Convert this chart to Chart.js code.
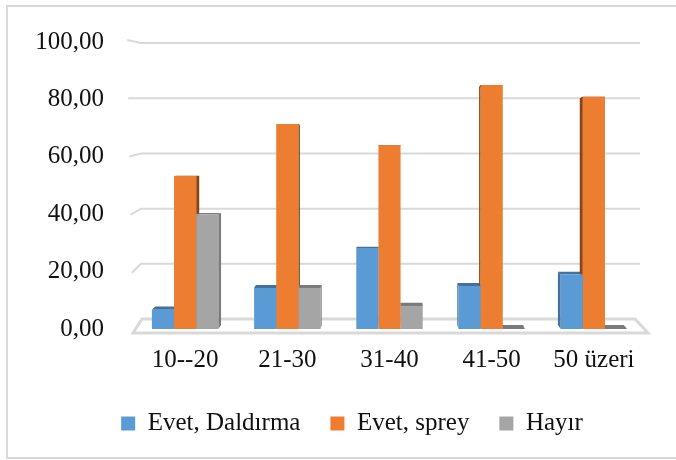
<!DOCTYPE html>
<html>
<head>
<meta charset="utf-8">
<script src="https://cdn.jsdelivr.net/npm/chart.js@4.4.1/dist/chart.umd.min.js"></script>
<style>
  html, body { margin: 0; padding: 0; background: #fff; }
  #wrap { width: 676px; height: 460px; }
</style>
</head>
<body>
<div id="wrap"><canvas id="chart" width="676" height="460"></canvas></div>
<script>
const categories = ["10--20", "21-30", "31-40", "41-50", "50 üzeri"];
const daldirmaValues = [6.67, 14.29, 28.00, 15.00, 19.05];
const spreyValues = [53.33, 71.43, 64.00, 85.00, 80.95];
const hayirValues = [40.00, 14.29, 8.00, 0, 0];
const seriesNames = ["Evet, Daldırma", "Evet, sprey", "Hayır"];
const yTicks = [0, 20, 40, 60, 80, 100];

const FONT = "'Liberation Serif', 'Times New Roman', serif";

// darker shades for the side / top faces of the columns
const sideColors = ["#41719c", "#8a4513", "#7b7b7b"];

// fake 3D: border, floor, back wall gridlines and column depth
const depth3d = {
    id: "depth3d",
    beforeDraw(chart) {
        const ctx = chart.ctx;
        ctx.save();
        ctx.fillStyle = "#fff";
        ctx.fillRect(0, 0, chart.width, chart.height);
        ctx.strokeStyle = "#d9d9d9";
        ctx.lineWidth = 2;
        ctx.strokeRect(7, 6, 700, 452);
        ctx.restore();
    },
    beforeDatasetsDraw(chart) {
        const ctx = chart.ctx;
        const a = chart.chartArea;
        const y = chart.scales.y;
        const base = y.getPixelForValue(0);
        const back = v => base - 10 - (base - y.getPixelForValue(v)) * 0.9614;

        ctx.save();
        // back wall gridlines
        ctx.strokeStyle = "#d9d9d9";
        ctx.lineWidth = 2;
        yTicks.forEach(v => {
            if (v === 0) return;
            const yb = back(v);
            const f = 1 - v / 100;
            ctx.beginPath();
            ctx.moveTo(a.left - 7 + 6 * f, yb - 3 + 15 * f);
            ctx.lineTo(a.left + 7, yb);
            ctx.lineTo(a.right - 5, yb);
            ctx.stroke();
        });

        // floor
        ctx.lineWidth = 3;
        ctx.beginPath();
        ctx.moveTo(a.left - 1, base + 4);
        ctx.lineTo(a.right + 3, base + 4);
        ctx.lineTo(a.right - 10, back(0));
        ctx.lineTo(a.left + 8, back(0));
        ctx.closePath();
        ctx.fillStyle = "#fff";
        ctx.fill();
        ctx.stroke();

        // column side + top faces (front faces are drawn by Chart.js on top)
        const cx = (a.left + a.right) / 2;
        const eye = a.top + (base - a.top) * 0.45;
        chart.data.datasets.forEach((ds, i) => {
            const meta = chart.getDatasetMeta(i);
            ctx.fillStyle = sideColors[i];
            meta.data.forEach(bar => {
                const p = bar.getProps(["x", "y", "base", "width"], true);
                const l = p.x - p.width / 2, r = p.x + p.width / 2;
                const dx = (cx - p.x) * 0.015;
                const dyT = (eye - p.y) * 0.025;
                const dyB = (eye - p.base) * 0.025;
                // top face
                ctx.beginPath();
                ctx.moveTo(l, p.y);
                ctx.lineTo(r, p.y);
                ctx.lineTo(r + dx, p.y + dyT);
                ctx.lineTo(l + dx, p.y + dyT);
                ctx.closePath();
                ctx.fill();
                // side face
                const ex = dx > 0 ? r : l;
                ctx.beginPath();
                ctx.moveTo(ex, p.y);
                ctx.lineTo(ex + dx, p.y + dyT);
                ctx.lineTo(ex + dx, p.base + dyB);
                ctx.lineTo(ex, p.base);
                ctx.closePath();
                ctx.fill();
            });
        });
        ctx.restore();
    }
};

const ctx = document.getElementById("chart").getContext("2d");

new Chart(ctx, {
    type: "bar",
    data: {
        labels: categories,
        datasets: [
            { label: seriesNames[0], data: daldirmaValues, backgroundColor: "#5b9bd5" },
            { label: seriesNames[1], data: spreyValues, backgroundColor: "#ed7d31" },
            { label: seriesNames[2], data: hayirValues, backgroundColor: "#a5a5a5" }
        ]
    },
    options: {
        responsive: false,
        animation: false,
        layout: { padding: { left: 28, right: 0, top: 42, bottom: 14 } },
        datasets: {
            bar: { barPercentage: 1, categoryPercentage: 0.65, borderWidth: 0 }
        },
        plugins: {
            tooltip: { enabled: false },
            legend: {
                position: "bottom",
                labels: {
                    color: "#111",
                    font: { family: FONT, size: 25 },
                    boxWidth: 14,
                    boxHeight: 14,
                    padding: 30
                }
            }
        },
        scales: {
            x: {
                grid: { display: false },
                border: { display: false },
                ticks: {
                    color: "#111",
                    font: { family: FONT, size: 25 },
                    padding: 8,
                    maxRotation: 0
                },
                afterFit: s => { s.height = 52; }
            },
            y: {
                min: 0,
                max: 100,
                grid: { display: false },
                border: { display: false },
                ticks: {
                    stepSize: 20,
                    color: "#111",
                    font: { family: FONT, size: 25 },
                    padding: 22,
                    callback: v => v.toFixed(2).replace(".", ",")
                },
                afterFit: s => { s.width = 106; }
            },
            y2: {
                position: "right",
                display: true,
                grid: { display: false },
                border: { display: false },
                ticks: { display: false },
                afterFit: s => { s.width = 31; }
            }
        }
    },
    plugins: [depth3d]
});
</script>
</body>
</html>
